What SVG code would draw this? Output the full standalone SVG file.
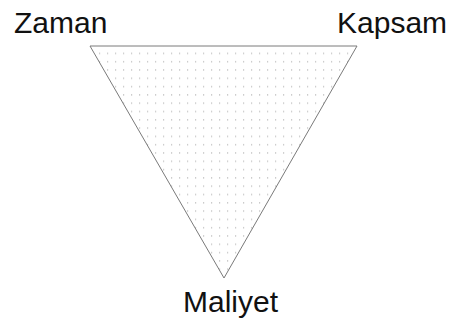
<svg xmlns="http://www.w3.org/2000/svg" width="452" height="324" viewBox="0 0 452 324">
<style>
.lbl{font-family:"Liberation Sans",Arial,sans-serif;font-size:30px;fill:#111}
</style>
<defs>
<pattern id="dots" x="0" y="0" width="8" height="8.3" patternUnits="userSpaceOnUse">
<rect x="3" y="3" width="1.2" height="1.2" fill="#b8b8b8"/>
</pattern>
</defs>
<rect width="452" height="324" fill="#fff"/>
<g id="triangle">
<polygon points="90,46 357,46 224,278" fill="url(#dots)" stroke="#7a7a7a" stroke-width="1"/>
</g>
<g id="zaman"><text class="lbl" x="14" y="33">Zaman</text></g>
<g id="kapsam"><text class="lbl" x="337" y="33">Kapsam</text></g>
<g id="maliyet"><text class="lbl" x="183" y="312">Maliyet</text></g>
</svg>
